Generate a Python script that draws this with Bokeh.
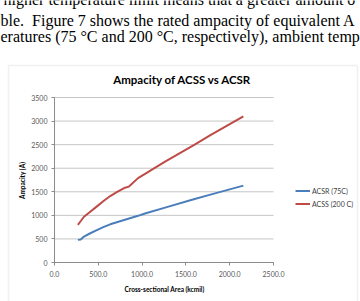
from bokeh.plotting import figure
from bokeh.models import Label, BoxAnnotation, Legend, LegendItem, NumeralTickFormatter, Range1d, FixedTicker
from bokeh.embed import file_html
from bokeh.resources import INLINE
from math import pi

# data
acsr_kcmil = [266.8, 300.0, 336.4, 397.5, 477.0, 556.5, 636.0, 795.0, 954.0, 1033.5, 1272.0, 1590.0, 1780.0, 2156.0]
acsr_75c = [480, 490, 550, 610, 680, 750, 810, 900, 990, 1040, 1170, 1340, 1440, 1630]
acss_kcmil = [266.8, 300.0, 336.4, 397.5, 477.0, 556.5, 636.0, 715.5, 795.0, 850.0, 954.0, 1033.5, 1272.0, 1590.0, 1780.0, 2156.0]
acss_200c = [800, 880, 970, 1060, 1180, 1300, 1410, 1500, 1580, 1610, 1790, 1880, 2150, 2490, 2700, 3100]
x_ticks = [0, 500, 1000, 1500, 2000, 2500]
y_ticks = [0, 500, 1000, 1500, 2000, 2500, 3000, 3500]
series_names = ["ACSR (75C)", "ACSS (200 C)"]
chart_title = "Ampacity of ACSS vs ACSR"
x_title = "Cross-sectional Area (kcmil)"
y_title = "Ampacity (A)"
doc_lines = [
    "higher temperature limit means that a greater amount o",
    "ble.\u00a0 Figure 7 shows the rated ampacity of equivalent A",
    "eratures (75 \u00b0C and 200 \u00b0C, respectively), ambient temp",
]

W, H = 360, 301
# plot area in canvas pixels
PL, PR, PT, PB = 54, 273, 97, 262
x0, x1 = x_ticks[0], x_ticks[-1]
y0, y1 = y_ticks[0], y_ticks[-1]
sx = (PR - PL) / (x1 - x0)
sy = (PB - PT) / (y1 - y0)

FONT = "Lato"
p = figure(width=W, height=H, output_backend="svg", toolbar_location=None,
           x_range=Range1d(x0 - PL / sx, x1 + (W - PR) / sx),
           y_range=Range1d(y0 - (H - PB) / sy, y1 + PT / sy),
           min_border=0, min_border_left=0, min_border_right=0,
           min_border_top=0, min_border_bottom=0)
p.outline_line_color = None
p.background_fill_color = "white"
p.border_fill_color = "white"
p.xgrid.visible = False
p.ygrid.visible = False

# grid lines across the plot area
p.segment(x0=[x0] * len(y_ticks), x1=[x1] * len(y_ticks), y0=y_ticks, y1=y_ticks,
          line_color="#c6c6c6", line_width=1)

p.xaxis.ticker = FixedTicker(ticks=x_ticks)
p.yaxis.ticker = FixedTicker(ticks=y_ticks)
p.xaxis.fixed_location = y0
p.yaxis.fixed_location = x0
p.xaxis.bounds = (x0, x1)
p.yaxis.bounds = (y0, y1)
p.xaxis.formatter = NumeralTickFormatter(format="0.0")
p.yaxis.formatter = NumeralTickFormatter(format="0")
for ax in (p.xaxis, p.yaxis):
    ax.axis_line_color = "#8c8c8c"
    ax.major_tick_line_color = "#8c8c8c"
    ax.major_tick_out = 3
    ax.major_tick_in = 0
    ax.minor_tick_line_color = None
    ax.major_label_text_font = FONT
    ax.major_label_text_font_size = "7px"
    ax.major_label_text_color = "#595959"
p.xaxis.major_label_standoff = 5
p.yaxis.major_label_standoff = 4

r1 = p.line(acsr_kcmil, acsr_75c, line_color="#4a7ebb", line_width=2)
r2 = p.line(acss_kcmil, acss_200c, line_color="#be4b48", line_width=2)

legend = Legend(items=[LegendItem(label=series_names[0], renderers=[r1]),
                       LegendItem(label=series_names[1], renderers=[r2])],
                location=(295, H - 210), padding=0, margin=0, spacing=0,
                label_height=13, glyph_height=13, glyph_width=15, label_standoff=2,
                border_line_color=None, background_fill_alpha=0,
                label_text_font=FONT, label_text_font_size="7px", label_text_color="#404040")
p.add_layout(legend)

# chart box
p.add_layout(BoxAnnotation(left=8, right=357, top=65, bottom=330,
                           left_units="canvas", right_units="canvas",
                           top_units="canvas", bottom_units="canvas",
                           fill_alpha=0, line_color="#cccccc", line_width=1.5))

p.add_layout(Label(x=182, y=79, x_units="canvas", y_units="canvas", text=chart_title,
                   text_font=FONT, text_font_size="11.5px", text_font_style="bold",
                   text_align="center", text_baseline="middle", text_color="black"))
p.add_layout(Label(x=164, y=289, x_units="canvas", y_units="canvas", text=x_title,
                   text_font=FONT, text_font_size="6.5px", text_font_style="bold",
                   text_align="center", text_baseline="middle", text_color="black"))
p.add_layout(Label(x=22, y=180, x_units="canvas", y_units="canvas", text=y_title, angle=pi / 2,
                   text_font=FONT, text_font_size="6.5px", text_font_style="bold",
                   text_align="center", text_baseline="middle", text_color="black"))

for (tx, ty), line in zip([(3, -1), (0, 20), (0, 36)], doc_lines):
    p.add_layout(Label(x=tx, y=ty, x_units="canvas", y_units="canvas", text=line,
                       text_font="Liberation Serif", text_font_size="16px",
                       text_align="left", text_baseline="middle", text_color="black"))

open("out.html", "w").write(file_html(p, INLINE))
